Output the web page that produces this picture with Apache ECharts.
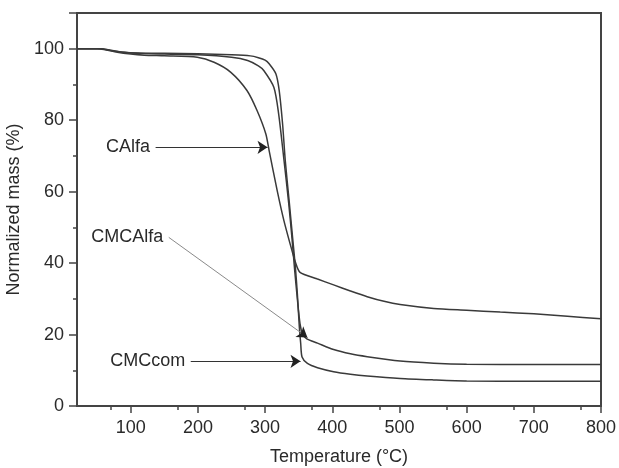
<!DOCTYPE html>
<html>
<head>
<meta charset="utf-8">
<script src="https://cdn.jsdelivr.net/npm/echarts@6/dist/echarts.min.js"></script>
<style>html,body{margin:0;padding:0;background:#fff}#c{width:619px;height:468px}</style>
</head>
<body>
<div id="c"></div>
<script>
// Temperature (°C) and normalized mass (%)
var tCAlfa = [20, 50, 60, 80, 100, 120, 150, 199, 224, 249, 273, 288, 301, 306, 318, 328, 340, 345, 352, 377, 402, 427, 452, 477, 501, 551, 600, 650, 700, 750, 800];
var mCAlfa = [100, 100, 99.8, 99, 98.5, 98.2, 98, 97.6, 96.2, 93.4, 88.3, 82.7, 76.2, 71.5, 60.3, 51.9, 43.5, 40.3, 37.4, 35.6, 33.9, 32.2, 30.6, 29.3, 28.4, 27.3, 26.8, 26.3, 25.8, 25.1, 24.4];

var tCMCAlfa = [20, 55, 70, 90, 110, 150, 200, 250, 274, 290, 298, 313, 320, 328, 335, 340, 344, 348, 352, 356, 362, 378, 402, 427, 452, 501, 551, 600, 700, 800];
var mCMCAlfa = [100, 100, 99.6, 99, 98.7, 98.5, 98.3, 97.6, 96.7, 95.2, 93.9, 89.2, 82, 69, 57, 47, 38, 30, 23, 20, 18.8, 17.6, 15.8, 14.6, 13.8, 12.6, 12.0, 11.7, 11.6, 11.6];

var tCMCcom = [20, 55, 70, 90, 110, 150, 200, 250, 278, 290, 300, 306, 316, 321, 326, 330, 336, 341, 345, 348, 351, 353, 355, 363, 378, 402, 427, 452, 501, 551, 600, 700, 800];
var mCMCcom = [100, 100, 99.5, 99, 98.8, 98.7, 98.6, 98.3, 98.0, 97.5, 96.8, 95.8, 93, 88.3, 79, 68.7, 57, 47, 39, 31.4, 22, 17.5, 13.7, 11.9, 10.7, 9.6, 8.9, 8.4, 7.7, 7.3, 7.0, 6.9, 6.9];

// Annotations: label, arrow start [T, M], arrow end [T, M]
var annLabels = ['CAlfa', 'CMCAlfa', 'CMCcom'];
var annStart = [[137, 72.4], [156.6, 47.2], [189.3, 12.5]];
var annEnd = [[303.6, 72.4], [363, 19.2], [352.7, 12.5]];
var annLineColor = ['#333', '#8a8a8a', '#333'];

var xTicks = [100, 200, 300, 400, 500, 600, 700, 800];
var yTicks = [0, 20, 40, 60, 80, 100];

function pairs(t, m) { return t.map(function (v, i) { return [v, m[i]]; }); }

var FONT = 'Liberation Sans, Arial, sans-serif';
var lineStyle = { color: '#3a3a3a', width: 1.5 };

var series = [
  { name: 'CAlfa', data: pairs(tCAlfa, mCAlfa) },
  { name: 'CMCAlfa', data: pairs(tCMCAlfa, mCMCAlfa) },
  { name: 'CMCcom', data: pairs(tCMCcom, mCMCcom) }
].map(function (s) {
  return {
    name: s.name, type: 'line', data: s.data, showSymbol: false, symbol: 'none',
    smooth: 0.25, lineStyle: lineStyle, silent: true, z: 3
  };
});

// arrows: shaft in its own colour, plus a short dark tip segment carrying the arrowhead
annStart.forEach(function (s, i) {
  var e = annEnd[i];
  var f = 0.05;
  var tipStart = [e[0] - f * (e[0] - s[0]), e[1] - f * (e[1] - s[1])];
  series.push({
    type: 'line', data: [], silent: true, z: 4,
    markLine: {
      silent: true, animation: false,
      symbol: ['none', 'none'],
      label: { show: false },
      lineStyle: { color: annLineColor[i], width: 1, type: 'solid' },
      emphasis: { disabled: true },
      data: [[{ coord: s }, { coord: tipStart }]]
    },
    markPoint: {
      silent: true, animation: false,
      symbol: 'circle', symbolSize: 1, itemStyle: { color: 'rgba(0,0,0,0)' },
      data: [{
        coord: s, value: annLabels[i],
        label: { show: true, position: 'left', distance: 5, formatter: annLabels[i], color: '#2a2a2a', fontSize: 18, fontFamily: FONT }
      }]
    }
  });
  series.push({
    type: 'line', data: [], silent: true, z: 5,
    markLine: {
      silent: true, animation: false,
      symbol: ['none', 'arrow'], symbolSize: 10,
      label: { show: false },
      lineStyle: { color: '#222', width: 1, type: 'solid' },
      emphasis: { disabled: true },
      data: [[{ coord: tipStart }, { coord: e }]]
    }
  });
});

var chart = echarts.init(document.getElementById('c'), null, { renderer: 'canvas' });
chart.setOption({
  animation: false,
  backgroundColor: '#fff',
  grid: { left: 77, right: 18, top: 13, bottom: 62, outerBoundsMode: 'none', containLabel: false,
          show: true, borderColor: '#444', borderWidth: 2, backgroundColor: 'transparent' },
  xAxis: {
    type: 'value', min: 20, max: 800,
    name: 'Temperature (°C)', nameLocation: 'middle', nameGap: 42,
    nameTextStyle: { color: '#2a2a2a', fontSize: 18, fontFamily: FONT },
    axisLine: { show: true, onZero: false, lineStyle: { color: '#444', width: 2 } },
    axisTick: { show: true, inside: false, length: 7, lineStyle: { color: '#444', width: 1.5 }, customValues: xTicks },
    minorTick: { show: true, splitNumber: 2, length: 4, lineStyle: { color: '#444', width: 1.5 } },
    axisLabel: { color: '#2a2a2a', fontSize: 18, fontFamily: FONT, margin: 13, customValues: xTicks },
    interval: 100,
    splitLine: { show: false }, minorSplitLine: { show: false }
  },
  yAxis: {
    type: 'value', min: 0, max: 110, interval: 20,
    name: 'Normalized mass (%)', nameLocation: 'middle', nameGap: 47,
    nameTextStyle: { color: '#2a2a2a', fontSize: 18, fontFamily: FONT },
    axisLine: { show: true, lineStyle: { color: '#444', width: 2 } },
    axisTick: { show: true, inside: false, length: 8, lineStyle: { color: '#444', width: 1.5 } },
    minorTick: { show: true, splitNumber: 2, length: 4, lineStyle: { color: '#444', width: 1.5 } },
    axisLabel: { color: '#2a2a2a', fontSize: 18, fontFamily: FONT, margin: 13, customValues: yTicks },
    splitLine: { show: false }, minorSplitLine: { show: false }
  },
  series: series
});
</script>
</body>
</html>
